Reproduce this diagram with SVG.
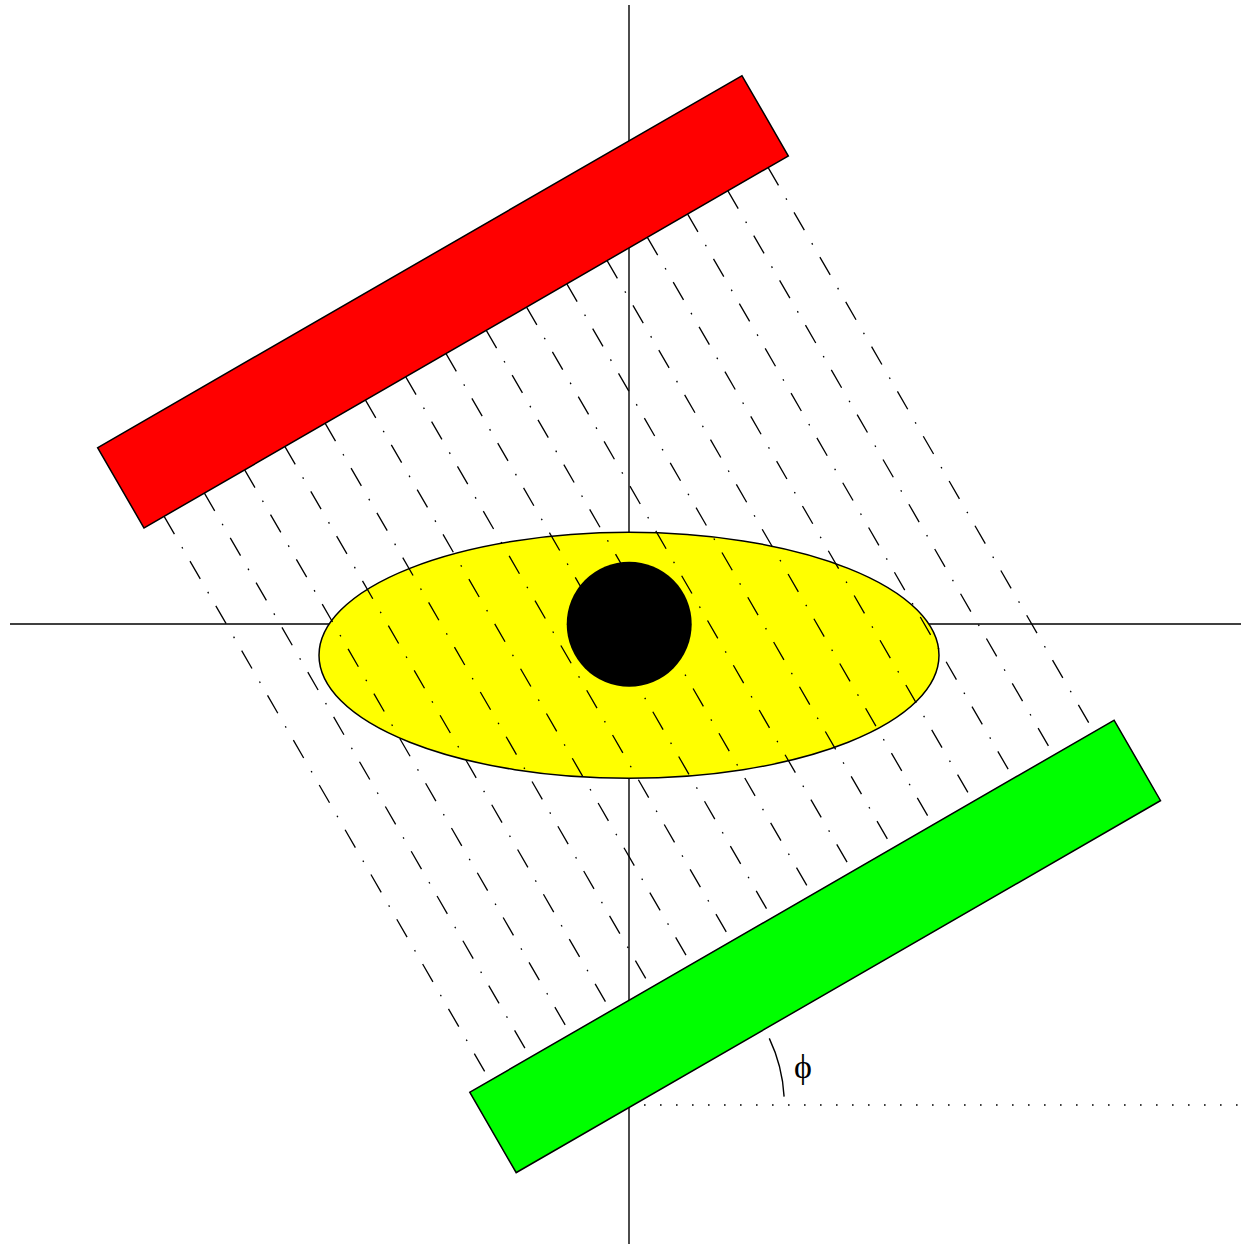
<svg xmlns="http://www.w3.org/2000/svg" width="1241" height="1244" viewBox="0 0 1241 1244">
  <style>
    .axis { stroke: #000; stroke-width: 1.4; fill: none; }
    .outline { stroke: #000; stroke-width: 1.5; }
    .ray { stroke: #000; stroke-width: 1.3; fill: none; stroke-dasharray: 20.6 15 1.6 14.5; }
    .dotted { stroke: #000; stroke-width: 1.5; fill: none; stroke-dasharray: 1.6 14.4; }
    .label { font-family: "Liberation Serif", "Times New Roman", serif; font-size: 34px; fill: #000; }
  </style>
  <rect x="0" y="0" width="1241" height="1244" fill="#fff"/>
  <g id="axes">
    <line class="axis" x1="629" y1="5" x2="629" y2="1244"/>
    <line class="axis" x1="10" y1="624" x2="1241" y2="624"/>
  </g>
  <g id="phantom">
    <ellipse class="outline" cx="629" cy="655.3" rx="310" ry="123" fill="#ffff00"/>
  </g>
  <g id="rays" transform="translate(629,624) rotate(-30)">
    <line class="ray" x1="-348.75" y1="-325.7" x2="-348.75" y2="325.9"/>
    <line class="ray" x1="-302.25" y1="-325.7" x2="-302.25" y2="325.9"/>
    <line class="ray" x1="-255.75" y1="-325.7" x2="-255.75" y2="325.9"/>
    <line class="ray" x1="-209.25" y1="-325.7" x2="-209.25" y2="325.9"/>
    <line class="ray" x1="-162.75" y1="-325.7" x2="-162.75" y2="325.9"/>
    <line class="ray" x1="-116.25" y1="-325.7" x2="-116.25" y2="325.9"/>
    <line class="ray" x1="-69.75" y1="-325.7" x2="-69.75" y2="325.9"/>
    <line class="ray" x1="-23.25" y1="-325.7" x2="-23.25" y2="325.9"/>
    <line class="ray" x1="23.25" y1="-325.7" x2="23.25" y2="325.9"/>
    <line class="ray" x1="69.75" y1="-325.7" x2="69.75" y2="325.9"/>
    <line class="ray" x1="116.25" y1="-325.7" x2="116.25" y2="325.9"/>
    <line class="ray" x1="162.75" y1="-325.7" x2="162.75" y2="325.9"/>
    <line class="ray" x1="209.25" y1="-325.7" x2="209.25" y2="325.9"/>
    <line class="ray" x1="255.75" y1="-325.7" x2="255.75" y2="325.9"/>
    <line class="ray" x1="302.25" y1="-325.7" x2="302.25" y2="325.9"/>
    <line class="ray" x1="348.75" y1="-325.7" x2="348.75" y2="325.9"/>
  </g>
  <g id="object">
    <circle cx="629.2" cy="624.2" r="62.5" fill="#000"/>
  </g>
  <g id="source" transform="translate(629,624) rotate(-30)">
    <rect class="outline" x="-372" y="-418.4" width="744" height="92.7" fill="#ff0000"/>
  </g>
  <g id="detector" transform="translate(629,624) rotate(-30)">
    <rect class="outline" x="-372" y="325.9" width="744" height="92.8" fill="#00ff00"/>
  </g>
  <g id="angle">
    <line class="dotted" x1="644" y1="1105" x2="1240" y2="1105"/>
    <path class="axis" d="M 784.1 1096.6 A 155.3 155.3 0 0 0 769.3 1038.4"/>
    <text class="label" x="803" y="1078" text-anchor="middle">ϕ</text>
  </g>
</svg>
